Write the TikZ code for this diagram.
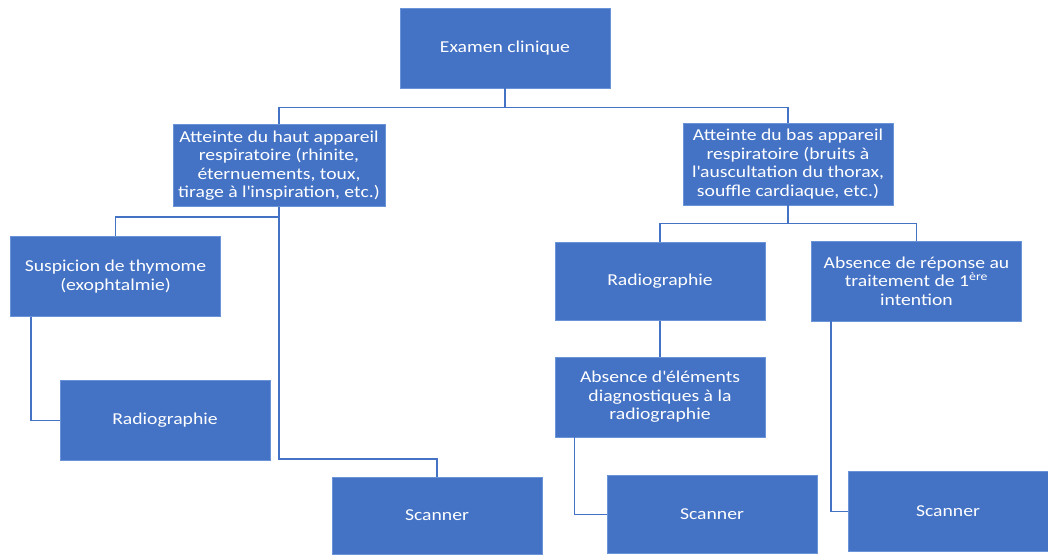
\documentclass[tikz,border=0pt]{standalone}
\usepackage{fontspec}
\setmainfont{Carlito}[FakeStretch=1.18]
\usetikzlibrary{positioning}
\definecolor{boxblue}{HTML}{4472C4}
\definecolor{edgeblue}{HTML}{6A93D8}

\begin{document}
\begin{tikzpicture}[
    box/.style={rectangle, fill=boxblue, draw=edgeblue, line width=0.6pt,
        text=white, align=center, inner sep=1pt,
        minimum width=157.5pt, minimum height=60pt,
        font=\fontsize{12.5}{13.8}\selectfont},
    link/.style={draw=boxblue, line width=1.1pt}
]
    \useasboundingbox (-378.75pt,-379.5pt) rectangle (407.25pt,36pt);
    \node [box] (exam) at (0,0) {Examen clinique};
    \node [box, minimum width=159pt, minimum height=62pt, xshift=-169.5pt, yshift=-88.1pt] (haut) at (exam)
        {Atteinte du haut appareil\\respiratoire (rhinite,\\éternuements, toux,\\tirage à l\textquotesingle inspiration, etc.)};
    \node [box, minimum height=61.5pt, xshift=212.25pt, yshift=-87pt] (bas) at (exam)
        {Atteinte du bas appareil\\respiratoire (bruits à\\l\textquotesingle auscultation du thorax,\\souffle cardiaque, etc.)};
    \node [box, xshift=-292.1pt, yshift=-171.4pt] (thym) at (exam)
        {Suspicion de thymome\\(exophtalmie)};
    \node [box, xshift=-255pt, yshift=-279.4pt] (radioL) at (exam) {Radiographie};
    \node [box, minimum height=57.75pt, xshift=-51pt, yshift=-350.6pt] (scanL) at (exam) {Scanner};
    \node [box, minimum height=59pt, xshift=116.25pt, yshift=-175.1pt] (radioR) at (exam) {Radiographie};
    \node [box, xshift=116.25pt, yshift=-261.75pt] (absEl) at (exam)
        {Absence d\textquotesingle éléments\\diagnostiques à la\\radiographie};
    \node [box, minimum height=59pt, xshift=155.25pt, yshift=-349.9pt] (scanM) at (exam) {Scanner};
    \node [box, xshift=308.6pt, yshift=-174.75pt] (absRep) at (exam)
        {Absence de réponse au\\traitement de 1\textsuperscript{ère}\\intention};
    \node [box, minimum width=150pt, xshift=332.25pt, yshift=-347.6pt] (scanR) at (exam) {Scanner};

    \draw [link] (exam.south) -- ++(0,-14.25pt) -| (haut.north);
    \draw [link] (exam.south) -- ++(0,-14.25pt) -| (bas.north);
    \draw [link] (haut.south) -- ++(0,-7.5pt) -| (thym.north);
    \draw [link] (haut.south) -- ++(0,-189pt) -| (scanL.north);
    \draw [link] ([xshift=15.75pt]thym.south west) |- (radioL.west);
    \draw [link] (bas.south) -- ++(0,-13.5pt) -| (radioR.north);
    \draw [link] (bas.south) -- ++(0,-13.5pt) -| (absRep.north);
    \draw [link] (radioR.south) -- (absEl.north);
    \draw [link] ([xshift=15pt]absEl.south west) |- (scanM.west);
    \draw [link] ([xshift=15pt]absRep.south west) |- (scanR.west);
\end{tikzpicture}
\end{document}
